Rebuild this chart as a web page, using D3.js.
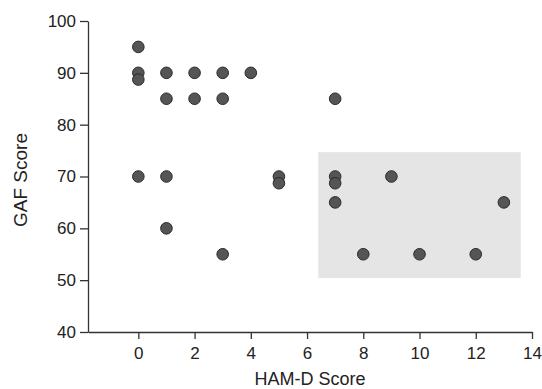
<!DOCTYPE html>
<html>
<head>
<meta charset="utf-8">
<script src="https://cdn.jsdelivr.net/npm/d3@7"></script>
<style>
  body { margin: 0; background: #fff; }
  text { font-family: "Liberation Sans", Arial, sans-serif; fill: #222; }
</style>
</head>
<body>
<div id="chart"></div>
<script>
// HAM-D score vs GAF score
var hamd = [0, 0, 0, 0, 1, 1, 1, 1, 2, 2, 3, 3, 3, 4, 5, 5, 7, 7, 7, 7, 8, 9, 10, 12, 13];
var gaf  = [95, 90, 88.7, 70, 90, 85, 70, 60, 90, 85, 90, 85, 55, 90, 70, 68.7, 85, 70, 68.7, 65, 55, 70, 55, 55, 65];
var xTicks = [0, 2, 4, 6, 8, 10, 12, 14];
var yTicks = [40, 50, 60, 70, 80, 90, 100];
// shaded region
var boxX = [6.4, 13.6];
var boxY = [50.4, 74.7];

var W = 542, H = 389;
var margin = { top: 21, right: 10, bottom: 57, left: 88 };

var x = d3.scaleLinear().domain([-1.79, 14]).range([margin.left, 532]);
var y = d3.scaleLinear().domain([40, 100]).range([H - margin.bottom, margin.top]);

var svg = d3.select("#chart").append("svg")
    .attr("width", W)
    .attr("height", H);

// shaded box
svg.append("rect")
    .attr("x", x(boxX[0]))
    .attr("y", y(boxY[1]))
    .attr("width", x(boxX[1]) - x(boxX[0]))
    .attr("height", y(boxY[0]) - y(boxY[1]))
    .attr("fill", "#e5e5e6");

// x axis
var gx = svg.append("g")
    .attr("transform", "translate(0," + y(40) + ")")
    .call(d3.axisBottom(x).tickValues(xTicks).tickSize(7).tickPadding(7.5).tickSizeOuter(0));
gx.selectAll("text").style("font-size", "17px");

// y axis
var gy = svg.append("g")
    .attr("transform", "translate(" + margin.left + ",0)")
    .call(d3.axisLeft(y).tickValues(yTicks).tickSize(8).tickPadding(4).tickSizeOuter(0));
gy.selectAll("text").style("font-size", "17px");

svg.selectAll(".domain, .tick line")
    .attr("stroke", "#333")
    .attr("stroke-width", 1.3);

// points
svg.selectAll("circle")
    .data(hamd)
    .enter()
    .append("circle")
    .attr("cx", function(d) { return x(d); })
    .attr("cy", function(d, i) { return y(gaf[i]); })
    .attr("r", 5.8)
    .attr("fill", "#555558")
    .attr("stroke", "#2a2a2a")
    .attr("stroke-width", 1);

// axis titles
svg.append("text")
    .attr("x", (margin.left + 532) / 2)
    .attr("y", 385)
    .attr("text-anchor", "middle")
    .style("font-size", "18px")
    .text("HAM-D Score");

svg.append("text")
    .attr("transform", "translate(27,180) rotate(-90)")
    .attr("text-anchor", "middle")
    .style("font-size", "19px")
    .text("GAF Score");
</script>
</body>
</html>
